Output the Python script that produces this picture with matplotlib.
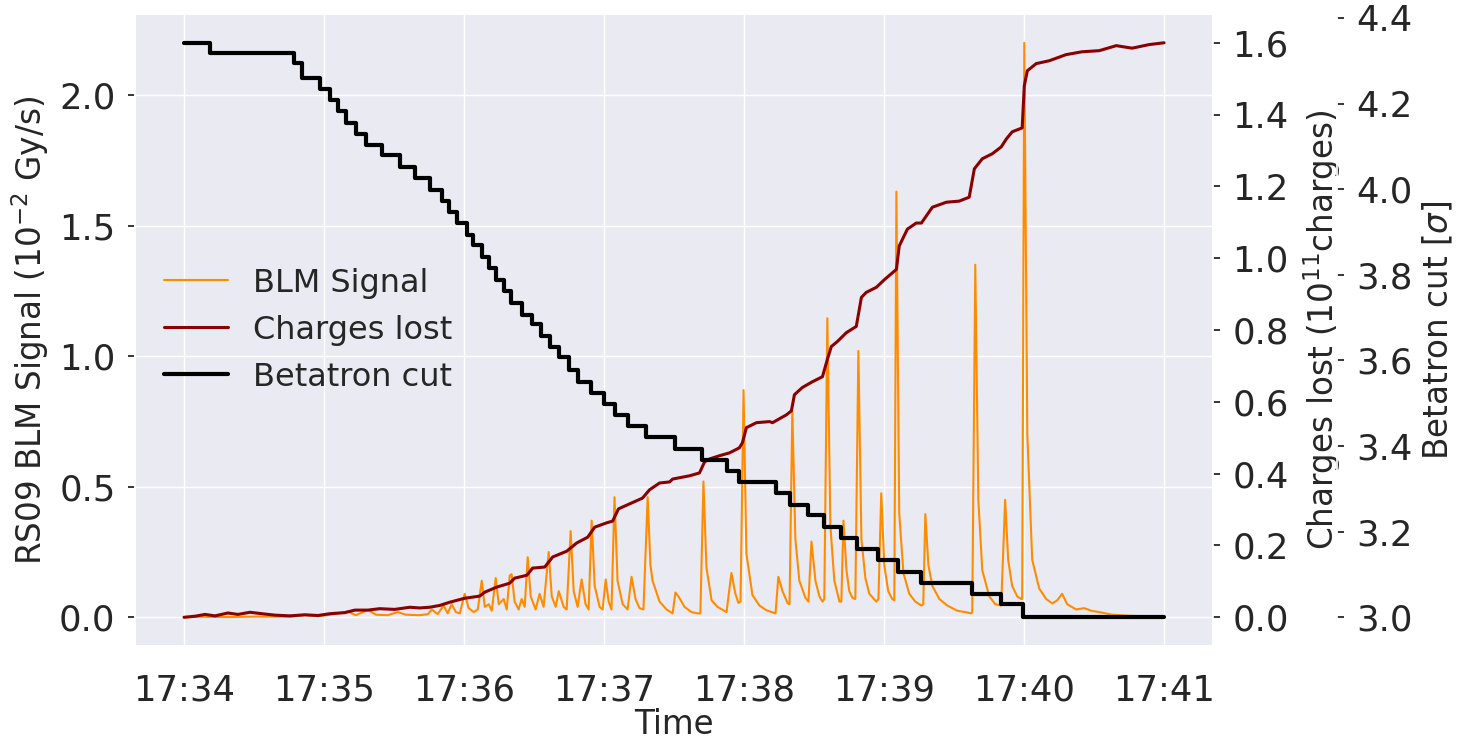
import numpy as np
import pandas as pd
import matplotlib
matplotlib.use("Agg")
import matplotlib.pyplot as plt
import matplotlib.dates as mdates
import seaborn as sns

# BLM signal (1e-2 Gy/s), time in s after 17:34:00
blm_t = [0, 6.9, 19.7, 32.5, 45.4, 51.8, 57.4, 64.6, 70.2, 73.6, 78.8, 82.2, 87.3,
         91.6, 95.0, 101.0, 104.5, 106.2, 108.7, 111.3, 113.0, 114.7, 116.5, 118.2,
         120.3, 122.0, 124.2, 125.9, 127.6, 128.9, 130.6, 131.9, 133.6, 134.9, 137.0,
         138.3, 139.6, 140.4, 141.7, 143.4, 144.7, 146.0, 147.3, 148.6, 150.7, 152.4,
         154.1, 156.3, 157.6, 159.3, 160.6, 162.7, 164.0, 165.7, 167.0, 168.7, 170.4,
         172.1, 173.4, 174.7, 176.0, 178.1, 179.4, 180.7, 182.0, 183.2, 184.5, 185.8,
         188.0, 190.1, 191.8, 193.5, 195.2, 196.9, 198.7, 199.9, 200.8, 203.8, 206.8,
         209.4, 210.6, 211.9, 214.5, 217.5, 220.1, 221.3, 222.6, 223.9, 226.1, 228.6,
         232.5, 234.6, 236.3, 237.6, 238.5, 239.8, 241.0, 243.6, 246.6, 249.6, 253.5,
         254.7, 256.5, 258.6, 259.5, 260.7, 262.0, 263.7, 266.3, 267.6, 268.9, 270.6,
         272.3, 273.6, 274.4, 275.7, 277.0, 278.7, 280.9, 281.7, 282.6, 283.9, 285.1,
         286.4, 287.7, 289.0, 290.3, 292.0, 293.7, 296.7, 297.6, 298.8, 300.1, 301.8,
         303.5, 304.4, 305.3, 306.5, 308.3, 310.8, 313.4, 316.0, 316.8, 317.7, 319.0,
         320.7, 323.7, 327.1, 331.4, 334.8, 337.4, 337.8, 339.1, 340.4, 342.1, 345.1,
         347.7, 350.2, 351.9, 353.2, 354.9, 357.1, 358.8, 359.2, 360.1, 361.4, 363.5,
         366.5, 369.5, 372.1, 374.2, 376.3, 378.5, 382.3, 385.8, 388.8, 392.2, 397.7,
         405.0, 413.6, 420.0]
blm_val = [0.0, 0.002, 0.001, 0.003, 0.002, 0.008, 0.004, 0.012, 0.022, 0.008, 0.028,
           0.01, 0.008, 0.02, 0.01, 0.008, 0.012, 0.03, 0.012, 0.045, 0.015, 0.05, 0.02,
           0.015, 0.09, 0.035, 0.02, 0.03, 0.14, 0.04, 0.05, 0.025, 0.15, 0.05, 0.07,
           0.03, 0.16, 0.165, 0.06, 0.03, 0.07, 0.04, 0.23, 0.08, 0.03, 0.09, 0.04, 0.25,
           0.08, 0.04, 0.10, 0.04, 0.03, 0.33, 0.10, 0.04, 0.145, 0.05, 0.03, 0.37, 0.12,
           0.04, 0.03, 0.145, 0.06, 0.03, 0.46, 0.14, 0.05, 0.03, 0.155, 0.07, 0.035,
           0.03, 0.46, 0.2, 0.14, 0.06, 0.03, 0.015, 0.095, 0.08, 0.04, 0.02, 0.015,
           0.015, 0.52, 0.19, 0.065, 0.04, 0.02, 0.17, 0.09, 0.055, 0.06, 0.87, 0.245,
           0.085, 0.045, 0.027, 0.015, 0.155, 0.1, 0.055, 0.05, 0.79, 0.3, 0.14, 0.075,
           0.06, 0.29, 0.14, 0.08, 0.06, 0.07, 1.145, 0.35, 0.14, 0.06, 0.06, 0.37, 0.18,
           0.1, 0.075, 0.07, 1.02, 0.3, 0.15, 0.09, 0.06, 0.07, 0.475, 0.2, 0.1, 0.07,
           0.065, 1.63, 0.4, 0.17, 0.09, 0.06, 0.045, 0.05, 0.395, 0.2, 0.12, 0.07, 0.045,
           0.025, 0.02, 0.015, 0.02, 1.35, 0.45, 0.18, 0.08, 0.05, 0.045, 0.45, 0.22,
           0.12, 0.08, 0.07, 0.07, 2.2, 0.7, 0.22, 0.11, 0.07, 0.053, 0.065, 0.09, 0.05,
           0.03, 0.035, 0.025, 0.02, 0.01, 0.006, 0.003, 0.001]

# cumulative charges lost (1e11 charges)
chg_t = [0, 4.7, 9.0, 13.3, 18.8, 23.1, 28.3, 33.4, 39.0, 45.4, 51.8, 57.4, 62.5,
         68.9, 73.2, 78.8, 83.9, 90.3, 96.8, 101.0, 105.3, 109.6, 113.9, 120.3, 126.7,
         128.9, 134.0, 139.6, 141.7, 146.9, 149.4, 154.6, 158.0, 164.0, 168.3, 173.0,
         176.0, 181.1, 183.7, 186.2, 191.0, 196.5, 199.5, 203.8, 208.1, 209.4, 216.6,
         220.9, 223.1, 225.2, 229.5, 233.8, 238.0, 239.3, 241.0, 245.3, 250.9, 252.2,
         258.2, 260.3, 261.6, 265.0, 269.3, 273.6, 275.7, 277.4, 280.0, 283.9, 288.1,
         290.3, 292.4, 296.7, 300.1, 305.3, 306.5, 310.0, 313.8, 316.0, 320.7, 326.7,
         332.2, 336.5, 338.7, 342.1, 346.4, 350.2, 352.4, 354.9, 359.2, 360.1, 361.4,
         365.2, 370.8, 378.0, 384.9, 392.2, 399.5, 406.3, 413.6, 420.0]
chg_val = [0.0, 0.003, 0.008, 0.004, 0.012, 0.008, 0.014, 0.01, 0.006, 0.004, 0.007,
           0.005, 0.01, 0.013, 0.02, 0.02, 0.024, 0.022, 0.028, 0.026, 0.028, 0.033,
           0.042, 0.053, 0.059, 0.07, 0.084, 0.095, 0.109, 0.117, 0.137, 0.14, 0.168,
           0.184, 0.207, 0.223, 0.251, 0.263, 0.268, 0.302, 0.316, 0.332, 0.355, 0.374,
           0.377, 0.385, 0.394, 0.402, 0.433, 0.441, 0.45, 0.458, 0.472, 0.486, 0.528,
           0.542, 0.545, 0.542, 0.564, 0.575, 0.62, 0.64, 0.656, 0.67, 0.718, 0.754,
           0.768, 0.793, 0.81, 0.891, 0.905, 0.919, 0.94, 0.969, 1.034, 1.081, 1.098,
           1.098, 1.142, 1.156, 1.159, 1.17, 1.249, 1.277, 1.291, 1.31, 1.332, 1.352,
           1.363, 1.48, 1.522, 1.542, 1.55, 1.567, 1.575, 1.578, 1.592, 1.585, 1.595,
           1.6]

# collimator betatron cut (sigma), step start times in s
cut_t = [0, 11.1, 47.1, 50.5, 58.2, 62.5, 65.9, 69.4, 73.6, 77.9, 84.8, 92.5, 98.9,
         105.3, 110.5, 113.5, 116.9, 121.2, 123.7, 127.6, 130.6, 133.6, 137.0, 140.0,
         144.7, 149.0, 152.8, 156.7, 160.6, 164.8, 168.7, 174.3, 179.8, 184.5, 190.1,
         197.8, 210.6, 221.8, 232.9, 238.0, 253.9, 259.9, 267.6, 274.4, 281.7, 288.6,
         297.6, 306.1, 316.0, 337.8, 350.2, 359.6, 420.0]
cut_val = [4.342, 4.318, 4.294, 4.26, 4.234, 4.208, 4.183, 4.155, 4.129, 4.103, 4.08,
           4.052, 4.026, 3.998, 3.973, 3.946, 3.92, 3.893, 3.869, 3.841, 3.815, 3.787,
           3.762, 3.733, 3.707, 3.684, 3.658, 3.632, 3.607, 3.578, 3.55, 3.524, 3.499,
           3.473, 3.447, 3.42, 3.393, 3.368, 3.342, 3.315, 3.29, 3.262, 3.239, 3.211,
           3.185, 3.159, 3.133, 3.105, 3.08, 3.054, 3.03, 3.0, 3.0]

start = pd.Timestamp("2018-01-01 17:34:00")


def to_time(seconds):
    return (start + pd.to_timedelta(np.asarray(seconds), unit="s")).to_pydatetime()


sns.set_theme(style="darkgrid")
plt.rcParams["font.family"] = ["DejaVu Sans"]

tick_fs = 25.5
label_fs = 23.5
legend_fs = 23

fig = plt.figure(figsize=(14.64, 7.40), dpi=100)
ax = fig.add_axes([0.0922, 0.127, 0.7364, 0.854])
ax2 = ax.twinx()
ax3 = ax.twinx()
ax3.spines["right"].set_position(("axes", 1.115))

l1, = ax.plot(to_time(blm_t), blm_val, color="darkorange", lw=1.5, label="BLM Signal")
l2, = ax2.plot(to_time(chg_t), chg_val, color="darkred", lw=2.2, label="Charges lost")
l3, = ax3.plot(to_time(cut_t), cut_val, color="black", lw=3, drawstyle="steps-post",
               label="Betatron cut")

ax2.grid(False)
ax3.grid(False)

ax.xaxis.set_major_locator(mdates.MinuteLocator())
ax.xaxis.set_major_formatter(mdates.DateFormatter("%H:%M"))
ax.set_yticks([0.0, 0.5, 1.0, 1.5, 2.0])
ax2.set_yticks([0.0, 0.2, 0.4, 0.6, 0.8, 1.0, 1.2, 1.4, 1.6])
ax3.set_yticks([3.0, 3.2, 3.4, 3.6, 3.8, 4.0, 4.2, 4.4])

ax.tick_params(axis="x", labelsize=tick_fs, bottom=False, length=0, pad=20)
ax.tick_params(axis="y", labelsize=tick_fs, left=True, length=5, width=1.3,
               color="0.15", pad=9)
for a in (ax2, ax3):
    a.tick_params(axis="y", labelsize=tick_fs, right=True, length=5, width=1.3,
                  color="0.15", pad=9)

ax.set_xlabel("Time", fontsize=label_fs, labelpad=0)
ax.set_ylabel("RS09 BLM Signal ($10^{-2}$ Gy/s)", fontsize=label_fs, labelpad=6)
ax2.set_ylabel("Charges lost ($10^{11}$charges)", fontsize=label_fs, labelpad=9)
ax3.set_ylabel(r"Betatron cut [$\sigma$]", fontsize=label_fs, labelpad=6)

ax3.legend(handles=[l1, l2, l3], loc="center left", bbox_to_anchor=(0.0, 0.5),
           fontsize=legend_fs, frameon=False, handlelength=2.0)

fig.savefig("out.png", dpi=100)
